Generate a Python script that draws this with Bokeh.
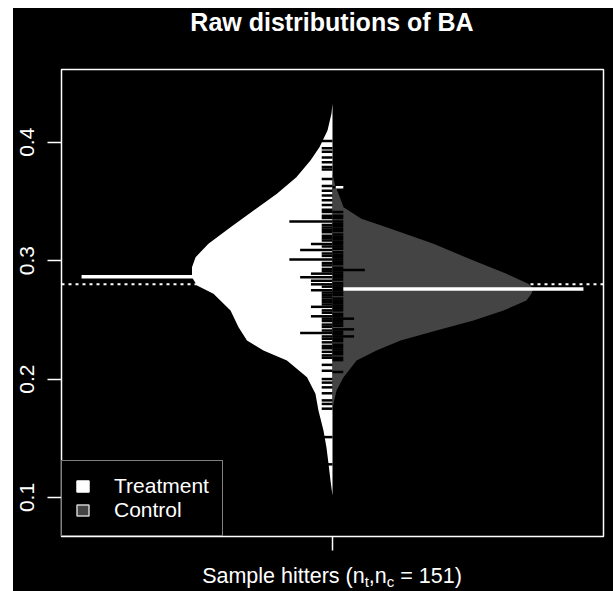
import numpy as np
from bokeh.plotting import figure
from bokeh.models import (Range1d, FixedTicker, Legend, LegendItem, Spacer, Span, Div)
from bokeh.layouts import row, column
from bokeh.embed import file_html
from bokeh.resources import INLINE

# ---------------- data ----------------
title_text = "Raw distributions of BA"
bean_labels = ["Treatment", "Control"]
y_ticks = [0.1, 0.2, 0.3, 0.4]
n_hitters = 151

# kernel density outline (relative density, control peak = 1)
treat_grid = [0.4327, 0.4242, 0.4099, 0.3958, 0.3846, 0.3705, 0.3564, 0.3423, 0.3282,
              0.3142, 0.3029, 0.2945, 0.2860, 0.2790, 0.2720, 0.2579, 0.2438, 0.2326,
              0.2241, 0.2157, 0.2016, 0.1876, 0.1735, 0.1566, 0.1422, 0.1287, 0.1143,
              0.1017]
treat_dens = [0.000, 0.005, 0.025, 0.065, 0.110, 0.180, 0.277, 0.393, 0.508,
              0.618, 0.682, 0.700, 0.700, 0.675, 0.593, 0.508, 0.468, 0.426,
              0.344, 0.227, 0.127, 0.085, 0.070, 0.045, 0.030, 0.020, 0.010,
              0.000]

ctrl_grid = [0.3736, 0.3634, 0.3564, 0.3451, 0.3353, 0.3282, 0.3142, 0.3001, 0.2889,
             0.2804, 0.2762, 0.2720, 0.2663, 0.2579, 0.2495, 0.2410, 0.2326, 0.2241,
             0.2157, 0.2016, 0.1903, 0.1794, 0.1735]
ctrl_dens = [0.000, 0.013, 0.030, 0.055, 0.144, 0.269, 0.503, 0.702, 0.867,
             0.975, 1.000, 0.991, 0.966, 0.852, 0.702, 0.518, 0.339, 0.219,
             0.120, 0.055, 0.020, 0.005, 0.000]

# individual observations (batting average) and number of hitters at that value
treat_ba = [0.401, 0.395, 0.392, 0.387, 0.383, 0.379, 0.377, 0.369, 0.363, 0.359, 0.355,
            0.351, 0.347, 0.343, 0.341, 0.338, 0.336, 0.333, 0.330, 0.328, 0.326, 0.324,
            0.321, 0.319, 0.317, 0.314, 0.312, 0.309, 0.306, 0.304, 0.301, 0.298, 0.296,
            0.293, 0.291, 0.289, 0.286, 0.283, 0.280, 0.278, 0.275, 0.273, 0.271, 0.269,
            0.267, 0.265, 0.263, 0.261, 0.258, 0.256, 0.253, 0.251, 0.249, 0.246, 0.244,
            0.241, 0.239, 0.236, 0.234, 0.231, 0.228, 0.226, 0.223, 0.220, 0.218, 0.212,
            0.207, 0.200, 0.197, 0.193, 0.188, 0.182, 0.179, 0.175, 0.151, 0.128]
treat_n = [1, 1, 1, 1, 1, 1, 1, 1, 1, 1, 1,
           1, 1, 1, 1, 1, 1, 4, 1, 1, 1, 1,
           1, 1, 1, 2, 1, 3, 1, 1, 4, 1, 1,
           1, 1, 2, 3, 2, 2, 1, 2, 1, 1, 1,
           1, 1, 1, 2, 1, 1, 2, 1, 1, 1, 1,
           1, 3, 1, 1, 1, 1, 1, 1, 1, 1, 1,
           1, 1, 1, 1, 1, 1, 1, 1, 1, 1]

ctrl_ba = [0.362, 0.341, 0.338, 0.336, 0.333, 0.331, 0.329, 0.327, 0.325, 0.322, 0.320,
           0.318, 0.316, 0.314, 0.312, 0.310, 0.307, 0.305, 0.303, 0.301, 0.299, 0.297,
           0.294, 0.292, 0.290, 0.288, 0.286, 0.284, 0.281, 0.279, 0.277, 0.275, 0.273,
           0.271, 0.268, 0.266, 0.264, 0.262, 0.260, 0.258, 0.255, 0.253, 0.251, 0.249,
           0.247, 0.245, 0.242, 0.240, 0.238, 0.236, 0.234, 0.232, 0.229, 0.227, 0.225,
           0.223, 0.221, 0.218, 0.216, 0.206]
ctrl_n = [1, 1, 1, 1, 1, 1, 1, 1, 1, 1, 1,
          1, 1, 1, 1, 1, 1, 1, 1, 1, 1, 1,
          1, 3, 1, 1, 1, 1, 1, 1, 1, 1, 1,
          1, 1, 1, 1, 1, 1, 1, 1, 1, 2, 1,
          1, 1, 2, 1, 1, 2, 1, 1, 1, 1, 1,
          1, 1, 1, 1, 1]

treat_mean = 0.2865
ctrl_mean = 0.2761
overall_mean = 0.2800

# ---------------- layout constants ----------------
CENTER = 1.0
HALF = 0.4         # half of the bean's maximal width
LINE_UNIT = 0.0215 # bean-line length per observation
AVG_LEN = 0.5
FONT = "Liberation Sans"
CTRL_GRAY = "#444444"
W = 600
H_TITLE = 30
H_MAIN = 523
H_LAB = 30
BL, BR = 48, 10
PAD = BL - BR      # shifts centred text onto the centre of the plot frame
BLACK = {"background-color": "black"}

p = figure(width=W, height=H_MAIN,
           x_range=Range1d(0.46, 1.54), y_range=Range1d(0.06707, 0.46139),
           output_backend="svg", toolbar_location=None,
           background_fill_color="black", border_fill_color="black",
           min_border_left=BL, min_border_right=BR,
           min_border_top=31, min_border_bottom=25, styles=BLACK)

p.grid.visible = False
p.outline_line_color = "white"
p.outline_line_width = 1.5

# axes
for ax in (p.xaxis[0], p.yaxis[0]):
    ax.axis_line_color = None
    ax.major_tick_line_color = "white"
    ax.major_tick_line_width = 1.5
    ax.major_tick_out = 14
    ax.major_tick_in = 0
    ax.minor_tick_line_color = None
    ax.major_label_text_color = "white"
    ax.major_label_text_font = FONT
    ax.major_label_text_font_size = "21px"

p.yaxis.ticker = FixedTicker(ticks=y_ticks)
p.yaxis.major_label_orientation = "vertical"
p.yaxis.major_label_standoff = 13

p.xaxis.ticker = FixedTicker(ticks=[CENTER])
p.xaxis.major_label_overrides = {1: ""}
p.xaxis.major_label_standoff = 0

# overall mean line (dotted, behind the beans)
p.add_layout(Span(location=overall_mean, dimension="width", line_color="white",
                  line_width=2, line_dash="3 4", level="underlay"))

# beans
tg = np.array(treat_grid); td = np.array(treat_dens)
cg = np.array(ctrl_grid); cd = np.array(ctrl_dens)
p.harea(x1=CENTER - HALF * td, x2=np.full(len(tg), CENTER), y=tg, fill_color="white")
p.harea(x1=np.full(len(cg), CENTER), x2=CENTER + HALF * cd, y=cg, fill_color=CTRL_GRAY)

# average lines
p.segment(x0=[CENTER - AVG_LEN], x1=[CENTER], y0=[treat_mean], y1=[treat_mean],
          line_color="white", line_width=3.5)
p.segment(x0=[CENTER], x1=[CENTER + AVG_LEN], y0=[ctrl_mean], y1=[ctrl_mean],
          line_color="white", line_width=3.5)

# bean lines: treatment (left, black)
tb = np.array(treat_ba); tn = np.array(treat_n)
p.segment(x0=CENTER - tn * LINE_UNIT, x1=np.full(len(tb), CENTER), y0=tb, y1=tb,
          line_color="black", line_width=2.5)

# bean lines: control (right, black inside the bean, white outside)
cb = np.array(ctrl_ba); cn = np.array(ctrl_n)
clen = cn * LINE_UNIT
cw = HALF * np.interp(cb, cg[::-1], cd[::-1])
inside = np.minimum(clen, cw)
p.segment(x0=np.full(len(cb), CENTER), x1=CENTER + inside, y0=cb, y1=cb,
          line_color="black", line_width=2.5)
out = clen > cw
p.segment(x0=CENTER + cw[out], x1=CENTER + clen[out], y0=cb[out], y1=cb[out],
          line_color="white", line_width=2.5)

# legend (proxy glyphs, not drawn in the plot area)
nan = [float("nan")]
lt = p.quad(left=nan, right=nan, top=nan, bottom=nan, fill_color="white",
            line_color="white", line_width=1.5)
lc = p.quad(left=nan, right=nan, top=nan, bottom=nan, fill_color=CTRL_GRAY,
            line_color="#d0d0d0", line_width=1.5)
legend = Legend(items=[LegendItem(label=bean_labels[0], renderers=[lt]),
                       LegendItem(label=bean_labels[1], renderers=[lc])],
                location="bottom_left", margin=0, padding=13, spacing=0,
                glyph_width=15, glyph_height=14, label_standoff=24, label_height=24,
                background_fill_color="black", background_fill_alpha=1.0,
                border_line_color="white", border_line_width=1.5,
                label_text_color="white", label_text_font=FONT,
                label_text_font_size="21px")
p.add_layout(legend)

# title strip above the plot
title_div = Div(
    text=(f'<div style="box-sizing:border-box;width:{W}px;height:{H_TITLE}px;'
          f'padding-left:{PAD}px;text-align:center;background:black;color:white;'
          f"font-family:'{FONT}';font-size:25px;font-weight:bold;"
          f'line-height:28px;white-space:nowrap;">{title_text}</div>'),
    width=W, height=H_TITLE, margin=0, styles=BLACK)

# x-axis title with real subscripts, in a text strip under the plot
sub = "font-size:15px;vertical-align:-3.5px;line-height:0"
xlab_div = Div(
    text=(f'<div style="box-sizing:border-box;width:{W}px;height:{H_LAB}px;'
          f'padding-left:{PAD}px;text-align:center;background:black;color:white;'
          f"font-family:'{FONT}';font-size:21.5px;line-height:{H_LAB}px;"
          f'white-space:nowrap;">'
          f'Sample hitters (n<span style="{sub}">t</span>,'
          f'n<span style="{sub}">c</span> = {n_hitters})</div>'),
    width=W, height=H_LAB, margin=0, styles=BLACK)

panel = column(title_div, p, xlab_div, styles=BLACK)
layout = column(Spacer(width=613, height=8),
                row(Spacer(width=13, height=H_TITLE + H_MAIN + H_LAB), panel))
open("out.html", "w").write(file_html(layout, INLINE))
